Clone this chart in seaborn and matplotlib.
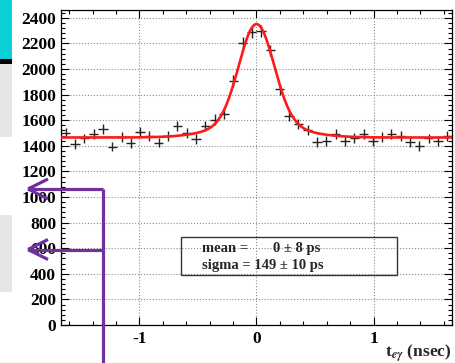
import numpy as np
import pandas as pd
import matplotlib

matplotlib.use("Agg")
import matplotlib.pyplot as plt
import seaborn as sns
from matplotlib.lines import Line2D
from matplotlib.patches import Rectangle

# bin contents (42 bins between -1.67 and 1.67 nsec)
counts = [1497, 1414, 1458, 1492, 1529, 1393, 1471, 1424, 1510, 1479,
          1425, 1475, 1552, 1500, 1455, 1558, 1605, 1652, 1906, 2200,
          2292, 2295, 2145, 1841, 1632, 1570, 1520, 1432, 1436, 1495,
          1438, 1462, 1490, 1440, 1471, 1495, 1477, 1428, 1398, 1458,
          1436, 1475]
x_min, x_max = -1.67, 1.67

# fit parameters (flat background + gaussian peak with a small wide tail)
fit_const = 1465
fit_amp = 776
fit_mean = 0.0
fit_sigma = 0.149
tail_amp = 110
tail_sigma = 0.33

y_ticks = [0, 200, 400, 600, 800, 1000, 1200, 1400, 1600, 1800, 2000, 2200, 2400]
x_ticks = [-1, 0, 1]
fit_lines = [("mean =", "0 \u00b1 8 ps"), ("sigma = 149 \u00b1 10 ps", "")]

W, H = 456, 363


def fx(px):
    return px / W


def fy(py):
    return 1 - py / H


sns.set_theme(style="ticks")
plt.rcParams["font.family"] = ["Liberation Serif", "DejaVu Serif"]
plt.rcParams["font.weight"] = "bold"
plt.rcParams["mathtext.fontset"] = "stix"

n_bins = len(counts)
bin_w = (x_max - x_min) / n_bins
hist = pd.DataFrame({
    "t": x_min + bin_w * (np.arange(n_bins) + 0.5),
    "n": counts,
})
hist["err"] = np.sqrt(hist["n"])

curve = pd.DataFrame({"t": np.linspace(x_min, x_max, 600)})
curve["f"] = (fit_const
              + fit_amp * np.exp(-0.5 * ((curve["t"] - fit_mean) / fit_sigma) ** 2)
              + tail_amp * np.exp(-0.5 * ((curve["t"] - fit_mean) / tail_sigma) ** 2))

fig = plt.figure(figsize=(W / 100, H / 100), dpi=100)
ax = fig.add_axes([fx(61), fy(325), 391 / W, 315.5 / H])

ax.errorbar(hist["t"], hist["n"], xerr=bin_w / 2, yerr=hist["err"], fmt="none",
            ecolor="#222222", elinewidth=1.0, capsize=0, zorder=3)
sns.lineplot(data=curve, x="t", y="f", color="#ff1a1a", linewidth=1.9, ax=ax, zorder=4)

ax.set_xlim(x_min, x_max)
ax.set_ylim(0, 2465)
ax.set_xticks(x_ticks)
ax.set_yticks(y_ticks)
ax.set_xticklabels(["-1", "0", "1"])
ax.set_xticks(np.arange(-1.6, 1.61, 0.2), minor=True)
ax.set_yticks(np.arange(0, 2465, 40), minor=True)
ax.tick_params(which="both", direction="in", top=True, right=True, width=0.8,
               labelsize=12.5, colors="black")
ax.tick_params(which="major", length=6)
ax.tick_params(which="minor", length=3.2)
ax.tick_params(axis="y", pad=3.5)
ax.tick_params(axis="x", pad=4.5)
ax.grid(True, which="major", linestyle=":", color="#8c8c8c", linewidth=0.8)
ax.set_axisbelow(True)
for sp in ax.spines.values():
    sp.set_linewidth(0.9)
    sp.set_color("black")

ax.set_xlabel("")
ax.set_ylabel("")
fig.text(fx(452), fy(356.5), r"t$_{e\gamma}$ (nsec)", fontsize=12.5, fontweight="bold",
         ha="right", va="baseline")

# fit result box
fig.add_artist(Rectangle((fx(180.7), fy(275)), (396.7 - 180.7) / W, (275 - 236.7) / H,
                         transform=fig.transFigure, facecolor="none",
                         edgecolor="#333333", linewidth=1.0))
for i, (name, value) in enumerate(fit_lines):
    yy = fy(248.3 + 16.7 * i)
    fig.text(fx(202.3), yy, name, fontsize=10.5, fontweight="bold", va="center", ha="left")
    if value:
        fig.text(fx(273), yy, value, fontsize=10.5, fontweight="bold",
                 va="center", ha="left")

# slide decorations on the left
fig.add_artist(Rectangle((0, fy(59)), fx(12), 59 / H, transform=fig.transFigure,
                         facecolor="#0bcfd8", edgecolor="none"))
fig.add_artist(Rectangle((0, fy(64)), fx(12), 5 / H, transform=fig.transFigure,
                         facecolor="black", edgecolor="none"))
fig.add_artist(Rectangle((0, fy(137)), fx(12), 73 / H, transform=fig.transFigure,
                         facecolor="#e6e6e6", edgecolor="none"))
fig.add_artist(Rectangle((0, fy(292)), fx(12), 77 / H, transform=fig.transFigure,
                         facecolor="#e6e6e6", edgecolor="none"))

purple = "#7030a0"
arrow_segs = [
    ([103, 103], [189, 363]),
    ([103, 28], [189, 189]),
    ([28, 48], [189, 179]),
    ([28, 48], [189, 199]),
    ([103, 28], [249.5, 249.5]),
    ([28, 48], [249.5, 239.5]),
    ([28, 48], [249.5, 259.5]),
]
for xs, ys in arrow_segs:
    fig.add_artist(Line2D([fx(v) for v in xs], [fy(v) for v in ys],
                          transform=fig.transFigure, color=purple, linewidth=2.3,
                          solid_capstyle="butt"))

fig.savefig("out.png", dpi=100)
